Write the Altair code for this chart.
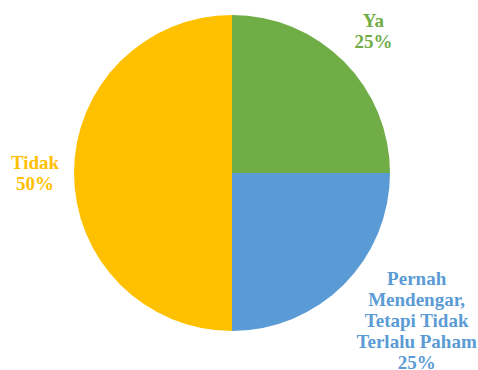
import altair as alt
import pandas as pd
import math

categories = ["Ya", "Pernah Mendengar, Tetapi Tidak Terlalu Paham", "Tidak"]
values = [25, 25, 50]
labels = [["Ya", "25%"], ["Pernah", "Mendengar,", "Tetapi Tidak", "Terlalu Paham", "25%"], ["Tidak", "50%"]]
colors = ["#70AD47", "#5B9BD5", "#FFC000"]

df = pd.DataFrame({"cat": categories, "val": values, "order": [0, 1, 2],
                   "label": labels})

CX, CY, R = 232, 173, 158
tscale = alt.Scale(domain=[0, 100], range=[0, 2 * math.pi])

pie = alt.Chart(df).transform_window(
    cum="sum(val)", sort=[alt.SortField("order")]
).transform_calculate(
    start="datum.cum - datum.val"
).mark_arc(radius=R).encode(
    theta=alt.Theta("start:Q", scale=tscale, stack=None),
    theta2="cum:Q",
    color=alt.Color("cat:N", scale=alt.Scale(domain=categories, range=colors), legend=None),
    x=alt.value(CX), y=alt.value(CY),
)

FONT = "Liberation Serif"

def lab(i, r, dx=0, dy=0):
    return alt.Chart(df).transform_window(
        cum="sum(val)", sort=[alt.SortField("order")]
    ).transform_calculate(
        ang=f"(datum.cum - datum.val / 2) / 100 * 2 * PI"
    ).transform_calculate(
        px=f"{CX} + {r} * sin(datum.ang) + {dx}",
        py=f"{CY} - {r} * cos(datum.ang) + {dy}",
    ).transform_filter(alt.datum.order == i).mark_text(
        font=FONT, fontWeight="bold", fontSize=19, lineHeight=21,
        align="center", baseline="middle", color=colors[i]
    ).encode(
        x=alt.X("px:Q", scale=None, axis=None),
        y=alt.Y("py:Q", scale=None, axis=None),
        text="label",
    )

chart = alt.layer(
    pie, lab(0, 200, 0, -11), lab(1, 230, 22, -57), lab(2, 197, 0, -10)
).properties(
    width=478, height=370, padding=0, autosize=alt.AutoSizeParams(type="none")
).configure_view(stroke=None)

chart.save("out.html", embed_options={"renderer": "svg", "actions": False})
